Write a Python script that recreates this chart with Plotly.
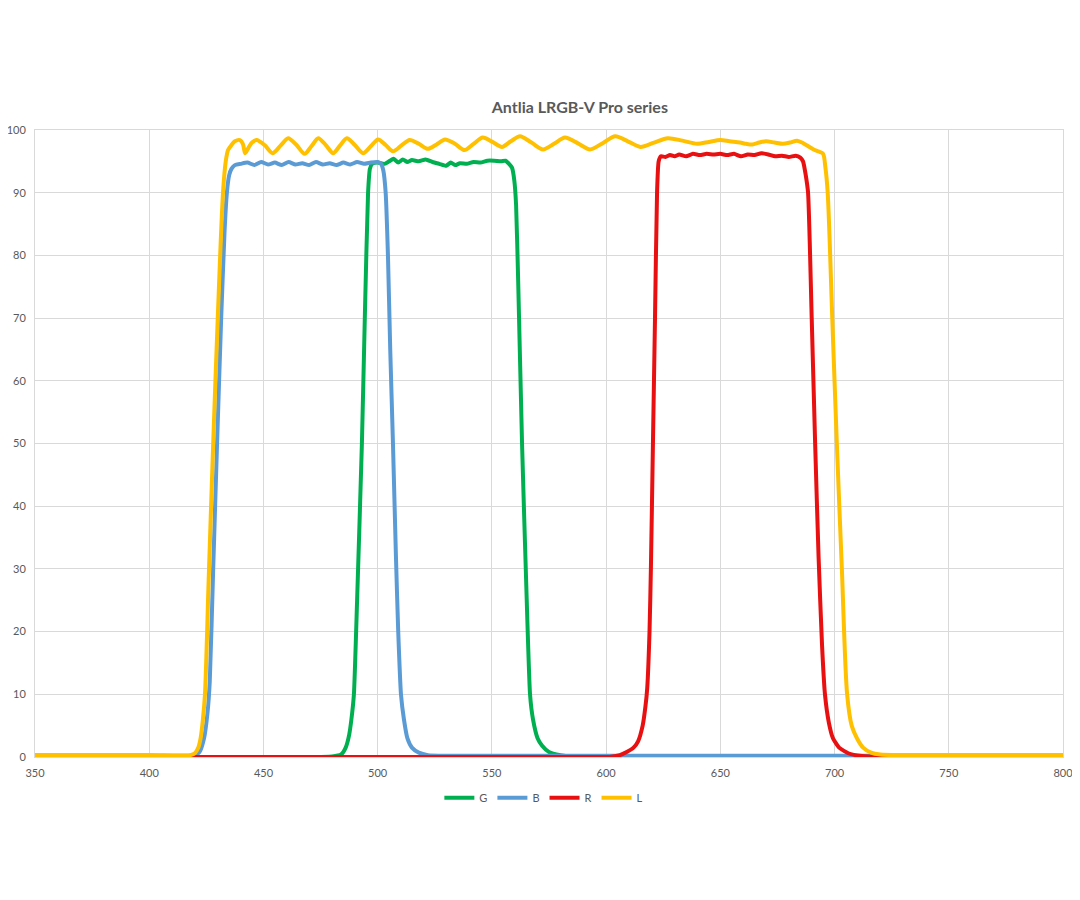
import plotly.graph_objects as go

# ---- data (wavelength nm, transmission %) ----
g_wl = [350, 480, 484, 486, 487.5, 488.5, 489.6, 491, 493.1, 494.5, 495.8, 496.6, 497.5, 500, 503, 505, 507, 509, 511, 513, 515, 518, 521, 524, 527, 530, 532, 534, 536, 539, 542, 545, 548, 551, 554, 556, 557.5, 558.8, 559.8, 560.6, 561.5, 563.2, 565, 566.7, 568, 570, 572, 575, 580, 585, 800]
g_val = [0.1, 0.1, 0.4, 1.5, 3.5, 6, 10, 25, 50, 72, 90, 93.8, 94.6, 94.8, 94.6, 95.0, 95.4, 94.8, 95.3, 94.9, 95.2, 95.0, 95.3, 94.9, 94.6, 94.3, 94.8, 94.4, 94.7, 94.6, 94.9, 94.8, 95.1, 95.1, 95.0, 95.1, 94.6, 94.0, 92, 88, 76, 50, 28, 10, 6, 3, 1.8, 0.8, 0.3, 0.1, 0.1]

b_wl = [350, 400, 420, 422, 424, 425.5, 426.5, 428, 429.7, 431.5, 433, 434, 435, 436, 437.5, 440, 443, 446, 449, 452, 455, 458, 461, 464, 467, 470, 473, 476, 479, 482, 485, 488, 491, 494, 497, 500, 501.5, 502.5, 503.5, 504.5, 505.5, 506.7, 508, 509, 510.2, 511.5, 513, 515, 518, 522, 530, 800]
b_val = [0.2, 0.2, 0.3, 0.8, 3, 7, 12, 30, 50, 70, 84, 90, 92.8, 93.8, 94.4, 94.6, 94.8, 94.4, 94.9, 94.5, 94.8, 94.4, 94.9, 94.5, 94.7, 94.4, 94.9, 94.5, 94.7, 94.4, 94.8, 94.5, 94.9, 94.6, 94.8, 94.9, 94.6, 93.5, 90, 80, 65, 50, 32, 20, 10, 6, 3, 1.5, 0.7, 0.3, 0.2, 0.2]

r_wl = [350, 600, 603, 606, 609, 612, 614, 616, 617.2, 618, 619, 619.6, 620.5, 621.4, 622.3, 623, 624, 626, 628, 630, 632, 635, 638, 641, 644, 647, 650, 653, 656, 659, 662, 665, 668, 671, 674, 677, 680, 683, 685, 686.2, 687.3, 688.4, 690, 691.5, 693, 694.5, 695.8, 697.5, 699.3, 702, 706, 712, 720, 800]
r_val = [0, 0, 0.1, 0.3, 0.8, 1.5, 2.5, 5, 8, 11, 20, 30, 50, 70, 90, 95, 95.8, 95.7, 96.0, 95.8, 96.1, 95.8, 96.2, 96.0, 96.2, 96.1, 96.2, 96.0, 96.2, 95.8, 96.1, 96.0, 96.3, 96.1, 95.8, 95.9, 95.7, 95.9, 95.6, 95, 93, 90, 70, 50, 32, 18, 10, 5.5, 3, 1.5, 0.6, 0.15, 0, 0]

l_wl = [350, 400, 418, 420, 421.5, 422.5, 423.5, 424.4, 426, 428, 430, 432.3, 433.5, 434.5, 436, 437.5, 439.7, 441, 442, 443.5, 445, 447, 450.5, 454, 457.5, 460.8, 464.5, 468, 471, 474, 477.3, 480.5, 483.5, 486.5, 490, 493.6, 497, 500.2, 503.5, 506.7, 510.3, 514, 518, 522, 525.8, 529.5, 533.8, 538, 542, 546, 550.2, 554.4, 558.3, 562.3, 567.3, 572.4, 577.2, 582, 587.5, 593, 598.5, 604, 609.5, 615, 621, 627, 633.4, 639.8, 645, 650, 654, 658.6, 661.3, 664, 667, 670, 673.7, 677.4, 680.5, 683.6, 686.3, 689, 691.3, 693.6, 695, 696, 697, 699, 701, 703.2, 705.5, 707.5, 709.8, 712.5, 716, 720, 730, 800]
l_val = [0.3, 0.3, 0.3, 0.6, 1.5, 3, 6, 10, 28, 50, 70, 90, 95, 96.8, 97.6, 98.2, 98.4, 97.8, 96.3, 97.2, 98.0, 98.4, 97.6, 96.3, 97.5, 98.7, 97.6, 96.2, 97.4, 98.7, 97.6, 96.3, 97.5, 98.7, 97.6, 96.3, 97.4, 98.5, 97.6, 96.6, 97.5, 98.4, 97.8, 97.0, 97.7, 98.5, 97.8, 96.8, 97.8, 98.8, 98.1, 97.3, 98.2, 99.0, 98.0, 96.9, 97.8, 98.8, 97.9, 96.9, 97.9, 99.0, 98.2, 97.3, 98.0, 98.7, 98.3, 97.8, 98.1, 98.4, 98.2, 98.0, 97.8, 97.7, 98.0, 98.2, 98.0, 97.8, 98.0, 98.3, 97.9, 97.3, 96.8, 96.5, 96.2, 94, 90, 70, 50, 30, 10, 5, 3, 1.5, 0.7, 0.4, 0.3, 0.3]

x_ticks = [350, 400, 450, 500, 550, 600, 650, 700, 750, 800]
y_ticks = [0, 10, 20, 30, 40, 50, 60, 70, 80, 90, 100]

series = [
    ("G", g_wl, g_val, "#00B050", 0.5),
    ("B", b_wl, b_val, "#5B9BD5", 0.5),
    ("R", r_wl, r_val, "#E81010", 0.5),
    ("L", l_wl, l_val, "#FFC000", 0.8),
]

FONT = "Lato, 'Liberation Sans', sans-serif"
GRAY = "#595959"
GRID = "#d9d9d9"

fig = go.Figure()
for name, xs, ys, col, sm in series:
    fig.add_trace(go.Scatter(
        x=xs, y=ys, name=name, mode="lines",
        line=dict(color=col, width=4, shape="spline", smoothing=sm),
    ))

# page body adds an 8px offset; figure sized so the plot area lands at 35..1063 x 130..757
fig.update_layout(
    width=1064, height=884,
    margin=dict(l=27, r=9, t=122, b=135),
    paper_bgcolor="white", plot_bgcolor="white",
    font=dict(family=FONT, size=11, color=GRAY),
    title=dict(text="<b>Antlia LRGB-V Pro series</b>", x=0.53, xanchor="center",
               xref="paper", y=1, yref="paper", yanchor="bottom", pad=dict(b=17),
               font=dict(family=FONT, size=16, color=GRAY)),
    showlegend=True,
    legend=dict(orientation="h", x=0.495, xanchor="center", y=-0.065, yanchor="middle",
                font=dict(family=FONT, size=11, color=GRAY), itemwidth=30,
                tracegroupgap=0, bgcolor="rgba(0,0,0,0)"),
)
fig.update_xaxes(range=[350, 800], tickvals=x_ticks, ticktext=[str(v) for v in x_ticks],
                 showgrid=True, gridcolor=GRID, gridwidth=1, zeroline=False,
                 showline=True, mirror=True, linecolor=GRID, linewidth=1,
                 ticks="", ticklabelstandoff=6, automargin=False,
                 ticklabeloverflow="allow")
fig.update_yaxes(range=[0, 100], tickvals=y_ticks, ticktext=[str(v) for v in y_ticks],
                 showgrid=True, gridcolor=GRID, gridwidth=1, zeroline=False,
                 showline=True, mirror=True, linecolor=GRID, linewidth=1,
                 ticks="", ticklabelstandoff=6, automargin=False,
                 ticklabeloverflow="allow")

fig.write_html("out.html")
